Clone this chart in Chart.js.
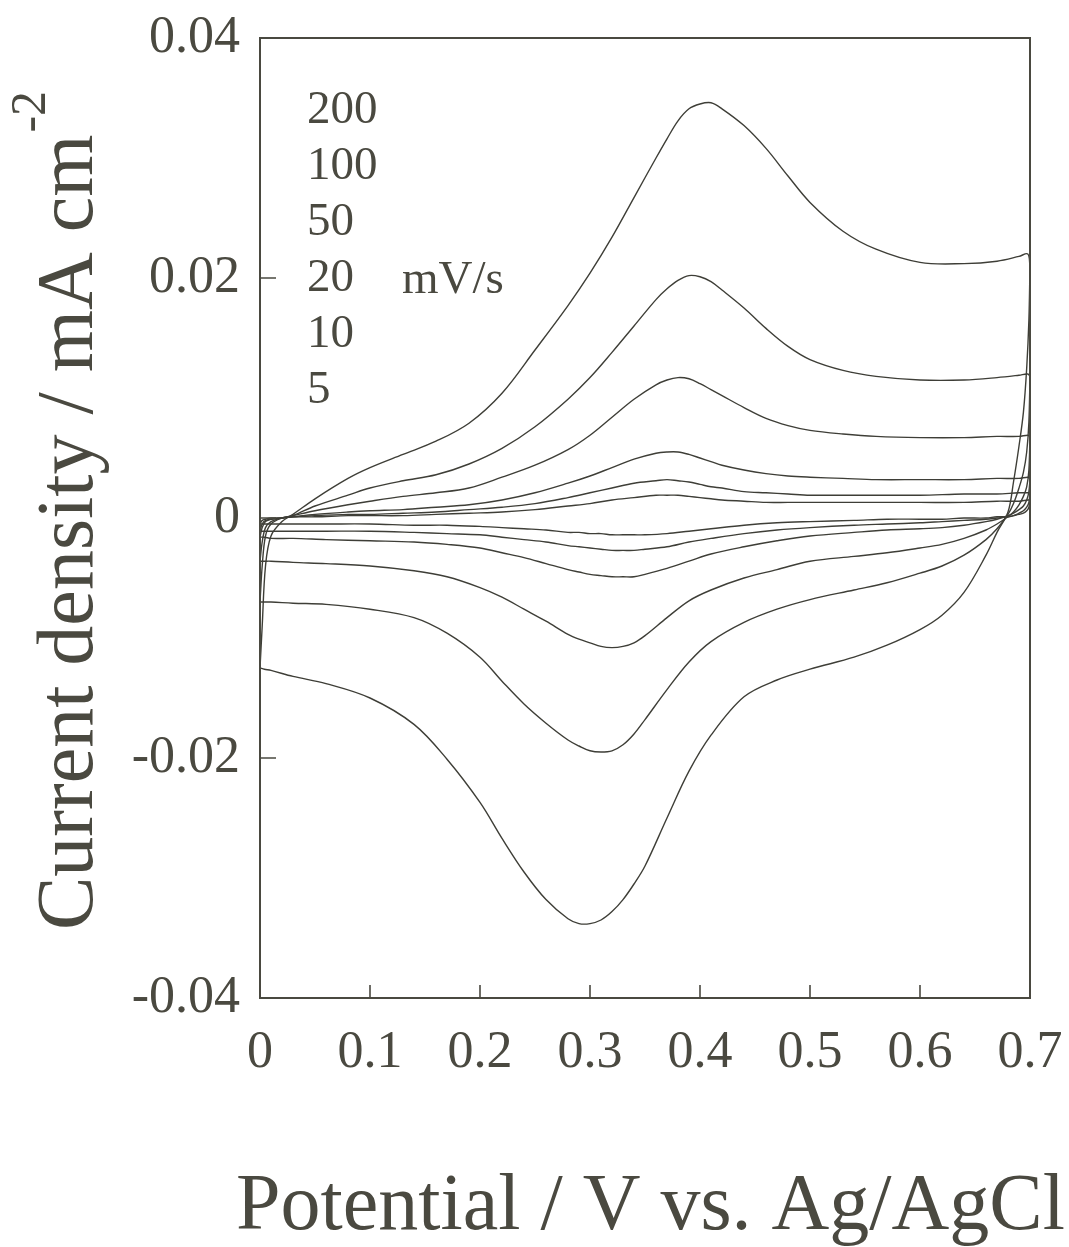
<!DOCTYPE html>
<html>
<head>
<meta charset="utf-8">
<script src="https://cdn.jsdelivr.net/npm/chart.js@4/dist/chart.umd.min.js"></script>
<style>
  html, body { margin: 0; padding: 0; background: #fff; }
  canvas { display: block; }
</style>
</head>
<body>
<canvas id="cv" width="1069" height="1247"></canvas>
<script>
// potential steps of the anodic (forward) sweep, V vs. Ag/AgCl
const fwdV = [0, 0.002, 0.005, 0.01, 0.02, 0.03, 0.05, 0.08, 0.1, 0.13, 0.16, 0.19, 0.22, 0.25, 0.28, 0.3,
  0.32, 0.34, 0.36, 0.37, 0.38, 0.39, 0.4, 0.41, 0.42, 0.44, 0.46, 0.48, 0.5, 0.53, 0.56, 0.6, 0.64, 0.67, 0.69, 0.698, 0.7];
// potential steps of the cathodic (reverse) sweep
const revV = [0.7, 0.699, 0.697, 0.694, 0.69, 0.685, 0.68, 0.67, 0.66, 0.64, 0.62, 0.6, 0.57, 0.54, 0.5, 0.47,
  0.44, 0.41, 0.39, 0.37, 0.35, 0.34, 0.33, 0.32, 0.31, 0.3, 0.29, 0.28, 0.26, 0.24, 0.22, 0.2, 0.17, 0.14, 0.1, 0.06, 0.03, 0.01, 0.004, 0];

// current density, mA cm-2, one pair of arrays per scan rate
const fwd200 = [-0.0125, -0.009, -0.004, -0.0015, -0.0003, 0.0003, 0.0016, 0.0033, 0.0042, 0.0053, 0.0064, 0.0079, 0.0104, 0.014, 0.0177, 0.0204,
  0.0234, 0.0267, 0.03, 0.0316, 0.0331, 0.0341, 0.0345, 0.0346, 0.0341, 0.0327, 0.0308, 0.0285, 0.0263, 0.0239, 0.0224, 0.0213, 0.0212, 0.0214, 0.0218, 0.022, 0.021];
const rev200 = [0.021, 0.0165, 0.0125, 0.0088, 0.006, 0.003, 0.0005, -0.0012, -0.0031, -0.0062, -0.0081, -0.0093, -0.0106, -0.0116, -0.0126, -0.0135,
  -0.0149, -0.0181, -0.0211, -0.025, -0.029, -0.0305, -0.0318, -0.0328, -0.0335, -0.0338, -0.0338, -0.0334, -0.0318, -0.0295, -0.0267, -0.0237, -0.0201, -0.0172, -0.015, -0.0138, -0.0132, -0.0127, -0.0126, -0.0125];

const fwd100 = [-0.007, -0.004, -0.0015, -0.0005, 0, 0.0002, 0.001, 0.0019, 0.0025, 0.0031, 0.0036, 0.0045, 0.0058, 0.0076, 0.0099, 0.0117,
  0.0138, 0.016, 0.0182, 0.0191, 0.0198, 0.0202, 0.0201, 0.0197, 0.019, 0.0175, 0.0158, 0.0143, 0.0132, 0.0123, 0.0118, 0.0115, 0.0115, 0.0117, 0.0119, 0.012, 0.0118];
const rev100 = [0.0118, 0.008, 0.0055, 0.0038, 0.0025, 0.0012, 0.0003, -0.0009, -0.0018, -0.0031, -0.004, -0.0046, -0.0054, -0.006, -0.0068, -0.0076,
  -0.0087, -0.0103, -0.012, -0.0143, -0.0168, -0.018, -0.0189, -0.0194, -0.0195, -0.0194, -0.019, -0.0185, -0.0171, -0.0155, -0.0136, -0.0116, -0.0096, -0.0083, -0.0076, -0.0072, -0.0071, -0.007, -0.007, -0.007];

const fwd50 = [-0.0036, -0.002, -0.0008, -0.0003, 0, 0.0002, 0.0006, 0.0011, 0.0014, 0.0018, 0.0021, 0.0025, 0.0034, 0.0044, 0.0057, 0.0069,
  0.0084, 0.0099, 0.0111, 0.0115, 0.0117, 0.0116, 0.0112, 0.0107, 0.0102, 0.0092, 0.0083, 0.0077, 0.0073, 0.007, 0.0068, 0.0067, 0.0067, 0.0068, 0.0068, 0.0069, 0.0068];
const rev50 = [0.0068, 0.004, 0.0026, 0.0018, 0.0011, 0.0005, 0.0001, -0.0005, -0.001, -0.0017, -0.0022, -0.0025, -0.0029, -0.0032, -0.0036, -0.0043,
  -0.005, -0.006, -0.0069, -0.0083, -0.0098, -0.0104, -0.0107, -0.0108, -0.0107, -0.0104, -0.0101, -0.0097, -0.0086, -0.0076, -0.0066, -0.0058, -0.0049, -0.0044, -0.004, -0.0038, -0.0037, -0.0036, -0.0036, -0.0036];

const fwd20 = [-0.0016, -0.0008, -0.0003, -0.0001, 0, 0.0001, 0.0003, 0.0005, 0.0006, 0.0007, 0.0009, 0.0011, 0.0015, 0.0021, 0.0029, 0.0035,
  0.0042, 0.0049, 0.0054, 0.0055, 0.0055, 0.0053, 0.005, 0.0047, 0.0044, 0.004, 0.0037, 0.0035, 0.0034, 0.0033, 0.0032, 0.0032, 0.0032, 0.0033, 0.0033, 0.0034, 0.0033];
const rev20 = [0.0033, 0.0022, 0.0015, 0.001, 0.0007, 0.0004, 0.0002, -0.0001, -0.0003, -0.0006, -0.0008, -0.0009, -0.001, -0.0012, -0.0015, -0.0019,
  -0.0024, -0.003, -0.0036, -0.0042, -0.0047, -0.0049, -0.0049, -0.0049, -0.0048, -0.0047, -0.0045, -0.0043, -0.0038, -0.0033, -0.0029, -0.0025, -0.0022, -0.002, -0.0019, -0.0018, -0.0017, -0.0017, -0.0016, -0.0016];

const fwd10 = [-0.0011, -0.0005, -0.0002, -0.0001, 0, 0.0001, 0.0002, 0.0003, 0.0003, 0.0004, 0.0005, 0.0007, 0.0009, 0.0012, 0.0017, 0.0021,
  0.0025, 0.0029, 0.0031, 0.0032, 0.0031, 0.003, 0.0028, 0.0026, 0.0025, 0.0022, 0.0021, 0.002, 0.0019, 0.0019, 0.0019, 0.0019, 0.002, 0.002, 0.0021, 0.0021, 0.0021];
const rev10 = [0.0021, 0.0013, 0.0009, 0.0006, 0.0004, 0.0002, 0.0001, 0, -0.0001, -0.0002, -0.0003, -0.0004, -0.0005, -0.0006, -0.0008, -0.001,
  -0.0013, -0.0017, -0.002, -0.0024, -0.0026, -0.0027, -0.0027, -0.0027, -0.0026, -0.0025, -0.0024, -0.0023, -0.002, -0.0018, -0.0016, -0.0014, -0.0013, -0.0012, -0.0011, -0.0011, -0.0011, -0.0011, -0.0011, -0.0011];

const fwd5 = [-0.0005, -0.0002, -0.0001, 0, 0, 0.0001, 0.0001, 0.0002, 0.0002, 0.0002, 0.0003, 0.0004, 0.0005, 0.0007, 0.001, 0.0012,
  0.0015, 0.0017, 0.0019, 0.0019, 0.0019, 0.0018, 0.0017, 0.0016, 0.0015, 0.0014, 0.0013, 0.0013, 0.0013, 0.0013, 0.0013, 0.0013, 0.0013, 0.0014, 0.0014, 0.0015, 0.0015];
const rev5 = [0.0015, 0.0009, 0.0006, 0.0004, 0.0003, 0.0002, 0.0001, 0.0001, 0, 0, -0.0001, -0.0001, -0.0001, -0.0002, -0.0003, -0.0004,
  -0.0006, -0.0009, -0.0011, -0.0013, -0.0014, -0.0014, -0.0014, -0.0014, -0.0013, -0.0013, -0.0012, -0.0012, -0.001, -0.0009, -0.0008, -0.0007, -0.0006, -0.0006, -0.0005, -0.0005, -0.0005, -0.0005, -0.0005, -0.0005];

const rates = ['200', '100', '50', '20', '10', '5'];
const sweeps = [[fwd200, rev200], [fwd100, rev100], [fwd50, rev50], [fwd20, rev20], [fwd10, rev10], [fwd5, rev5]];

const ink = '#4a4940';
const serif = "'Liberation Serif', 'Times New Roman', serif";

// one closed loop per scan rate: forward sweep then back
function loop(fwd, rev) {
  const pts = fwdV.map((v, i) => ({ x: v, y: fwd[i] }));
  return pts.concat(revV.map((v, i) => ({ x: v, y: rev[i] })));
}

const datasets = sweeps.map((s, k) => ({
  label: rates[k] + ' mV/s',
  data: loop(s[0], s[1]),
  showLine: true,
  borderColor: '#3e3e37',
  borderWidth: 1.4,
  pointRadius: 0,
  tension: 0.35,
  fill: false
}));

// keep the plot box fixed, labels may hang over the edges
function noPad(s) {
  s.paddingLeft = 0;
  s.paddingRight = 0;
  s.paddingTop = 0;
  s.paddingBottom = 0;
}

// frame, inward ticks, axis titles and rate labels
const decor = {
  id: 'decor',
  afterDraw(chart) {
    const { ctx, chartArea: a, scales: { x, y } } = chart;
    ctx.save();
    ctx.strokeStyle = ink;
    ctx.lineWidth = 2;
    ctx.strokeRect(a.left, a.top, a.right - a.left, a.bottom - a.top);

    ctx.lineWidth = 1.6;
    ctx.beginPath();
    x.ticks.forEach(t => {
      const px = x.getPixelForValue(t.value);
      ctx.moveTo(px, a.bottom);
      ctx.lineTo(px, a.bottom - 13);
    });
    y.ticks.forEach(t => {
      const py = y.getPixelForValue(t.value);
      ctx.moveTo(a.left, py);
      ctx.lineTo(a.left + 16, py);
    });
    ctx.stroke();

    ctx.fillStyle = ink;
    ctx.textBaseline = 'alphabetic';

    // x title
    ctx.font = '80px ' + serif;
    ctx.textAlign = 'left';
    ctx.fillText('Potential / V vs. Ag/AgCl', 236, 1229);

    // y title with superscript
    ctx.save();
    ctx.translate(92, 930);
    ctx.rotate(-Math.PI / 2);
    const main = 'Current density / mA cm';
    ctx.fillText(main, 0, 0);
    const w = ctx.measureText(main).width;
    ctx.font = '50px ' + serif;
    ctx.fillText('-2', w + 2, -47);
    ctx.restore();

    // scan rate labels
    ctx.font = '47px ' + serif;
    const lx = x.getPixelForValue(0.0427);
    rates.forEach((r, i) => {
      ctx.fillText(r, lx, 123 + i * 56);
    });
    ctx.fillText('mV/s', x.getPixelForValue(0.1291), 293);
    ctx.restore();
  }
};

new Chart(document.getElementById('cv'), {
  type: 'scatter',
  data: { datasets },
  options: {
    responsive: false,
    animation: false,
    layout: { padding: { top: 38, right: 39, left: 0, bottom: 0 } },
    plugins: { legend: { display: false }, tooltip: { enabled: false } },
    scales: {
      x: {
        type: 'linear',
        min: 0,
        max: 0.7,
        grid: { display: false, drawTicks: false },
        border: { display: false },
        ticks: {
          stepSize: 0.1,
          color: ink,
          padding: 24,
          maxRotation: 0,
          font: { family: serif, size: 52 },
          callback: v => Math.abs(v) < 1e-9 ? '0' : v.toFixed(1)
        },
        afterFit: s => { s.height = 249; noPad(s); }
      },
      y: {
        type: 'linear',
        min: -0.04,
        max: 0.04,
        grid: { display: false, drawTicks: false },
        border: { display: false },
        ticks: {
          stepSize: 0.02,
          color: ink,
          padding: 20,
          font: { family: serif, size: 52 },
          callback: v => Math.abs(v) < 1e-9 ? '0' : v.toFixed(2)
        },
        afterFit: s => { s.width = 260; noPad(s); }
      }
    }
  },
  plugins: [decor]
});
</script>
</body>
</html>
